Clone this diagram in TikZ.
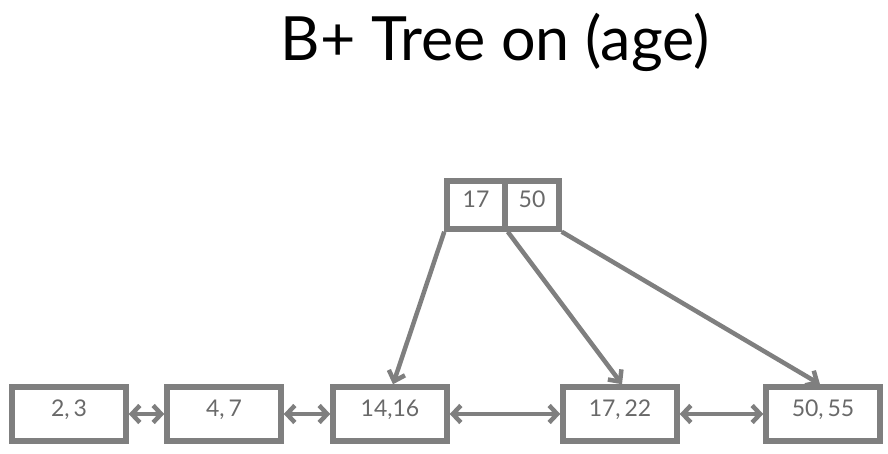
\documentclass[tikz,border=0pt]{standalone}
\usepackage{fontspec}
\setmainfont{Lato}
\usetikzlibrary{arrows.meta}
\definecolor{treegray}{RGB}{127,127,127}
\definecolor{keygray}{RGB}{105,105,105}
\tikzset{
  leaf/.style={draw=treegray, line width=5.5pt, minimum width=114pt, minimum height=54pt,
    text=keygray, font=\fontsize{23}{25}\selectfont, text height=18pt, text depth=13pt},
  key/.style={draw=treegray, line width=5.5pt, minimum height=48pt,
    text=keygray, font=\fontsize{23}{25}\selectfont, text height=18pt, text depth=13pt, inner sep=0pt},
  ptr/.style={draw=treegray, line width=4.5pt, -{Straight Barb[length=9pt,width=17pt]}},
  link/.style={draw=treegray, line width=4.5pt, {Straight Barb[length=8pt,width=17pt]}-{Straight Barb[length=8pt,width=17pt]}}
}
\begin{document}
\begin{tikzpicture}[x=1pt, y=-1pt]
\useasboundingbox (0,0) rectangle (888,454);

\node (title) at (495,42) {\fontsize{61}{65}\selectfont B+ Tree on (age)};

% root
\node[key, minimum width=58pt] (k1) at (476,205) {17};
\node[key, minimum width=54pt] (k2) at (532,205) {50};

% leaves
\node[leaf] (l1) at (69,414) {2,\,3};
\node[leaf] (l2) at (224,414) {4,\,7};
\node[leaf] (l3) at (390,414) {14,16};
\node[leaf] (l4) at (620,414) {17,\,22};
\node[leaf] (l5) at (823,414) {50,\,55};

\draw[link] (l1.east) -- (l2.west);
\draw[link] (l2.east) -- (l3.west);
\draw[link] (l3.east) -- (l4.west);
\draw[link] (l4.east) -- (l5.west);

\draw[ptr] (k1.south west) -- ([xshift=3pt]l3.north);
\draw[ptr] (k1.south east) -- ([xshift=2pt]l4.north);
\draw[ptr] (k2.south east) -- ([xshift=-3pt]l5.north);
\end{tikzpicture}
\end{document}
